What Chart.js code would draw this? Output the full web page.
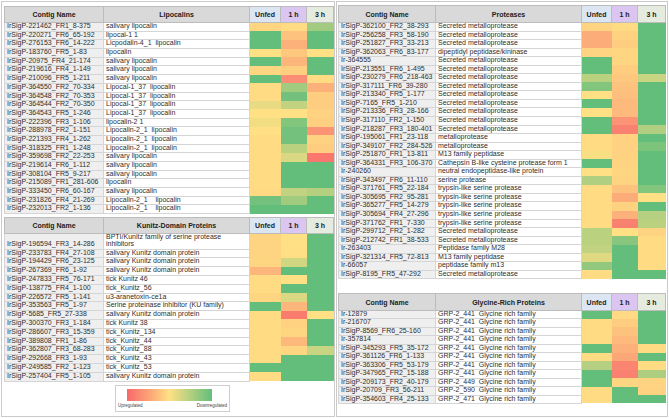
<!DOCTYPE html>
<html lang="en">
<head>
<meta charset="UTF-8">
<title>Salivary transcripts heat map</title>
<script src="https://cdn.jsdelivr.net/npm/chart.js"></script>
<style>
    body {
        margin: 0;
        width: 669px;
        height: 418px;
        overflow: hidden;
        background: #fff;
        position: relative;
        font-family: "Liberation Sans", Arial, sans-serif;
    }
    .frame {
        position: absolute;
        border: 1px solid #cacaca;
        box-sizing: border-box;
    }
    .panel { position: absolute; }
    .panel table {
        border-collapse: collapse;
        table-layout: fixed;
        font-size: 7px;
        color: #2e2e2e;
    }
    .panel th {
        background: #d9d9d9;
        color: #222;
        font-weight: bold;
        border: 1px solid #bcbcbc;
        padding: 0;
        text-align: center;
        vertical-align: middle;
    }
    .panel th.unfed { background: #dce6f3; }
    .panel th.h1 { background: #dbc5f1; }
    .panel th.h3 { background: #e5ecdf; }
    .panel td {
        padding: 0 0 1px 2px;
        white-space: pre;
        vertical-align: bottom;
        border: 1px solid #d5d5d5;
    }
    .panel td.contig { background: #efefef; }
    .panel td.heat { border: none; padding: 0; }
    .panel canvas { position: absolute; }
    .legend {
        position: absolute;
        left: 115px; top: 385px; width: 115px; height: 27px;
        border: 1px solid #cfcfcf;
        box-sizing: border-box;
        background: #fff;
    }
    .legend .bar {
        position: absolute;
        left: 11px; top: 3px; width: 85px; height: 12px;
        background: linear-gradient(to right, #f8696b, #fba276 25%, #ffe084 50%, #b1cf80 75%, #63be7b);
    }
    .legend span {
        position: absolute;
        top: 17px;
        font-size: 4.5px;
        color: #444;
    }
</style>
</head>
<body>
<div class="frame" style="left:1px;top:1px;width:334px;height:416px"></div>
<div class="frame" style="left:336px;top:1px;width:332px;height:416px"></div>
<div class="legend">
    <div class="bar"></div>
    <span style="left:2px">Upregulated</span>
    <span style="right:2px">Downregulated</span>
</div>
<script>
// heat score per cell: 0 = most upregulated (red), 50 = neutral (yellow), 100 = most downregulated (green)
const columns = ['Unfed', '1 h', '3 h'];

const lipoContigs = ['IrSigP-221462_FR1_8-375', 'IrSigP-220271_FR6_65-192', 'IrSigP-276153_FR6_14-222', 'IrSigP-183760_FR5_1-83',
    'IrSigP-20975_FR4_21-174', 'IrSigP-219616_FR4_1-149', 'IrSigP-210096_FR5_1-211', 'IrSigP-364550_FR2_70-334',
    'IrSigP-364548_FR2_70-353', 'IrSigP-364544_FR2_70-350', 'IrSigP-364543_FR5_1-246', 'IrSigP-222396_FR3_1-106',
    'IrSigP-288978_FR2_1-151', 'IrSigP-221393_FR4_1-262', 'IrSigP-318325_FR1_1-248', 'IrSigP-359698_FR2_22-253',
    'IrSigP-219614_FR6_1-112', 'IrSigP-308104_FR5_9-217', 'IrSigP-215089_FR1_281-606', 'IrSigP-333450_FR6_60-167',
    'IrSigP-231826_FR4_21-269', 'IrSigP-232013_FR2_1-136'];
const lipoProteins = ['salivary lipocalin', 'lipocal-1 1', 'Licpodalin-4_1  lipocalin', 'lipocalin',
    'salivary lipocalin', 'salivary lipocalin', 'salivary lipocalin', 'Lipocal-1_37  lipocalin',
    'Lipocal-1_37  lipocalin', 'Lipocal-1_37  lipocalin', 'Lipocal-1_37  lipocalin', 'lipocalin-2 1',
    'Lipocalin-2_1  lipocalin', 'Lipocalin-2_1  lipocalin', 'Lipocalin-2_1  lipocalin', 'salivary lipocalin',
    'salivary lipocalin', 'salivary lipocalin', 'lipocalin', 'salivary lipocalin',
    'Lipocalin-2_1    lipocalin', 'Lipocalin-2_1    lipocalin'];
const lipoUnfed = [46, 100, 100, 50, 100, 46, 100, 48, 48, 57, 50, 54, 50, 48, 48, 48, 48, 48, 48, 47, 95, 100];
const lipo1h = [48, 38, 30, 40, 32, 43, 15, 80, 95, 70, 50, 90, 95, 95, 72, 62, 100, 100, 100, 70, 80, 100];
const lipo3h = [80, 100, 100, 50, 100, 100, 48, 30, 42, 42, 44, 43, 18, 44, 42, 6, 100, 100, 100, 74, 100, 100];

const kunitzContigs = ['IrSigP-196594_FR3_14-286', 'IrSigP-233783_FR4_27-108', 'IrSigP-194429_FR6_23-125', 'IrSigP-267369_FR6_1-92',
    'IrSigP-247833_FR5_76-171', 'IrSigP-138775_FR4_1-100', 'IrSigP-226572_FR5_1-141', 'IrSigP-353563_FR5_1-97',
    'IrSigP-5685_FR5_27-338', 'IrSigP-300370_FR3_1-184', 'IrSigP-286607_FR3_15-359', 'IrSigP-389808_FR1_1-86',
    'IrSigP-362807_FR3_68-283', 'IrSigP-292668_FR3_1-93', 'IrSigP-249585_FR2_1-123', 'IrSigP-257404_FR5_1-105'];
const kunitzProteins = ['BPTI/Kunitz family of serine protease\ninhibitors', 'salivary Kunitz domain protein',
    'salivary Kunitz domain protein', 'salivary Kunitz domain protein', 'tick Kunitz 46', 'tick_Kunitz_56',
    'u3-aranetoxin-ce1a', 'Serine proteinase inhibitor (KU family)', 'salivary Kunitz domain protein', 'tick Kunitz 38',
    'tick_Kunitz_134', 'tick_Kunitz_44', 'tick_Kunitz_88', 'tick_Kunitz_43', 'tick_Kunitz_53',
    'salivary Kunitz domain protein'];
const kunitzUnfed = [45, 45, 46, 32, 48, 48, 46, 100, 48, 48, 48, 48, 48, 48, 100, 48];
const kunitz1h = [50, 49, 65, 100, 50, 100, 62, 32, 8, 44, 46, 33, 46, 100, 100, 100];
const kunitz3h = [100, 100, 100, 100, 100, 100, 100, 100, 50, 100, 100, 100, 68, 100, 100, 100];

const proteaseContigs = ['IrSigP-362100_FR2_38-293', 'IrSigP-256258_FR3_58-190', 'IrSigP-251827_FR3_33-213', 'IrSigP-362063_FR6_83-177',
    'Ir-364555', 'IrSigP-213551_FR6_1-495', 'IrSigP-230279_FR6_218-463', 'IrSigP-317111_FR6_39-280',
    'IrSigP-213340_FR5_1-177', 'IrSigP-7165_FR5_1-210', 'IrSigP-213336_FR3_28-166', 'IrSigP-317110_FR2_1-150',
    'IrSigP-218287_FR3_180-401', 'IrSigP-195061_FR1_23-118', 'IrSigP-349107_FR2_284-526', 'IrSigP-251870_FR1_13-811',
    'IrSigP-364331_FR3_106-370', 'Ir-240260', 'IrSigP-343497_FR6_11-110', 'IrSigP-371761_FR5_22-184',
    'IrSigP-305695_FR2_95-281', 'IrSigP-365277_FR5_14-279', 'IrSigP-305694_FR4_27-296', 'IrSigP-371762_FR1_7-330',
    'IrSigP-299712_FR2_1-282', 'IrSigP-212742_FR1_38-533', 'Ir-263403', 'IrSigP-321314_FR5_72-813',
    'Ir-66057', 'IrSigP-8195_FR5_47-292'];
const proteaseProteins = ['Secreted metalloprotease', 'Secreted metalloprotease', 'Secreted metalloprotease', 'dipeptidyl peptidase/kininase',
    'Secreted metalloprotease', 'Secreted metalloprotease', 'Secreted metalloprotease', 'Secreted metalloprotease',
    'Secreted metalloprotease', 'Secreted metalloprotease', 'Secreted metalloprotease', 'Secreted metalloprotease',
    'Secreted metalloprotease', 'metalloprotease', 'metalloprotease', 'M13 family peptidase',
    'Cathepsin B-like cysteine protease form 1', 'neutral endopeptidase-like protein', 'serine protease', 'trypsin-like serine protease',
    'trypsin-like serine protease', 'trypsin-like serine protease', 'trypsin-like serine protease', 'trypsin-like serine protease',
    'Secreted metalloprotease', 'Secreted metalloprotease', 'Peptidase family M28', 'M13 family peptidase',
    'peptidase family m13', 'Secreted metalloprotease'];
const proteaseUnfed = [45, 28, 28, 45, 100, 100, 72, 90, 50, 100, 50, 100, 100, 48, 48, 52, 100, 50, 75, 48,
    48, 48, 48, 48, 72, 72, 70, 60, 85, 48];
const protease1h = [48, 44, 42, 46, 46, 42, 40, 38, 36, 34, 34, 18, 10, 44, 44, 44, 45, 46, 45, 38,
    28, 44, 30, 10, 50, 88, 100, 100, 100, 100];
const protease3h = [100, 100, 100, 100, 100, 100, 68, 100, 100, 100, 100, 100, 75, 100, 92, 100, 100, 100, 100, 90,
    50, 100, 74, 72, 45, 48, 48, 48, 48, 100];

const glycineContigs = ['Ir-12879', 'Ir-216707', 'IrSigP-8569_FR6_25-160', 'Ir-357814', 'IrSigP-345293_FR5_35-172',
    'IrSigP-361126_FR6_1-133', 'IrSigP-363306_FR5_53-179', 'IrSigP-347965_FR2_15-188', 'IrSigP-209173_FR2_40-179',
    'IrSigP-20709_FR3_56-211', 'IrSigP-354603_FR4_25-133'];
const glycineProteins = ['GRP-2_441  Glycine rich family', 'GRP-2_441  Glycine rich family', 'GRP-2_441  Glycine rich family',
    'GRP-2_441  Glycine rich family', 'GRP-2_441  Glycine rich family', 'GRP-2_441  Glycine rich family',
    'GRP-2_441  Glycine rich family', 'GRP-2_441  Glycine rich family', 'GRP-2_449  Glycine rich family',
    'GRP-2_590  Glycine rich family', 'GRP-2_471  Glycine rich family'];
const glycineUnfed = [100, 48, 48, 48, 100, 48, 74, 100, 100, 48, 48];
const glycine1h = [47, 42, 38, 34, 30, 26, 12, 10, 46, 100, 100];
const glycine3h = [100, 100, 100, 100, 48, 100, 48, 76, 45, 44, 100];

const heatStops = [[248, 105, 107], [255, 224, 132], [99, 190, 123]];

function heatColor(v) {
    const t = Math.max(0, Math.min(100, v)) / 50;
    const i = t < 1 ? 0 : 1;
    const f = t - i;
    const a = heatStops[i], b = heatStops[i + 1];
    const c = a.map((ch, k) => Math.round(ch + (b[k] - ch) * f));
    return `rgb(${c[0]}, ${c[1]}, ${c[2]})`;
}

function buildPanel(cfg) {
    const panel = document.createElement('div');
    panel.className = 'panel';
    panel.style.left = cfg.left + 'px';
    panel.style.top = cfg.top + 'px';

    const total = cfg.widths.reduce((s, w) => s + w, 0);
    let html = `<table style="width:${total}px"><colgroup>`;
    cfg.widths.forEach(w => { html += `<col style="width:${w}px">`; });
    html += `</colgroup><thead><tr style="height:${cfg.headerH}px">` +
        `<th>Contig Name</th><th>${cfg.title}</th>` +
        `<th class="unfed">${columns[0]}</th><th class="h1">${columns[1]}</th><th class="h3">${columns[2]}</th>` +
        `</tr></thead><tbody>`;
    const lh = (cfg.rowH - 2).toFixed(2);
    cfg.contigs.forEach((name, i) => {
        html += `<tr style="height:${cfg.rowH}px">` +
            `<td class="contig" style="line-height:${lh}px">${name}</td>` +
            `<td style="line-height:${lh}px">${cfg.proteins[i]}</td>` +
            `<td class="heat"></td><td class="heat"></td><td class="heat"></td></tr>`;
    });
    html += '</tbody></table>';
    panel.innerHTML = html;
    document.body.appendChild(panel);

    // heat cells follow the table's own row and column boxes
    const box = panel.getBoundingClientRect();
    const table = panel.querySelector('table');
    const heads = Array.from(table.tHead.rows[0].cells).slice(2);
    const rows = Array.from(table.tBodies[0].rows);
    const x0 = Math.round(heads[0].getBoundingClientRect().left - box.left);
    const x1 = Math.round(heads[2].getBoundingClientRect().right - box.left);
    const y0 = Math.round(rows[0].getBoundingClientRect().top - box.top);
    const y1 = Math.round(rows[rows.length - 1].getBoundingClientRect().bottom - box.top);
    const width = x1 - x0;
    const height = y1 - y0;

    const colEdges = heads.map(h => {
        const r = h.getBoundingClientRect();
        return [Math.round(r.left - box.left) - x0, Math.round(r.right - box.left) - x0];
    });
    const rowEdges = rows.map(tr => {
        const r = tr.getBoundingClientRect();
        return [Math.round(r.top - box.top) - y0, Math.round(r.bottom - box.top) - y0];
    });

    const canvas = document.createElement('canvas');
    canvas.width = width;
    canvas.height = height;
    canvas.style.left = x0 + 'px';
    canvas.style.top = y0 + 'px';
    canvas.style.width = width + 'px';
    canvas.style.height = height + 'px';
    panel.appendChild(canvas);

    new Chart(canvas.getContext('2d'), {
        type: 'bar',
        data: {
            datasets: cfg.series.map((values, j) => ({
                label: columns[j],
                data: values.map((v, i) => ({
                    x: (colEdges[j][0] + colEdges[j][1]) / 2,
                    y: rowEdges[i]
                })),
                backgroundColor: values.map(heatColor),
                barThickness: colEdges[j][1] - colEdges[j][0],
                stack: 'heat',
                borderWidth: 0,
                inflateAmount: 0
            }))
        },
        options: {
            responsive: false,
            animation: false,
            events: [],
            layout: { padding: 0 },
            plugins: { legend: { display: false }, tooltip: { enabled: false } },
            scales: {
                x: { type: 'linear', min: 0, max: width, offset: false, display: false },
                y: { type: 'linear', min: 0, max: height, reverse: true, stacked: false, display: false }
            }
        }
    });
}

buildPanel({
    title: 'Lipocalins', left: 4, top: 6, widths: [99, 146, 31, 26, 27], headerH: 16, rowH: 8.68,
    contigs: lipoContigs, proteins: lipoProteins, series: [lipoUnfed, lipo1h, lipo3h]
});
buildPanel({
    title: 'Kunitz-Domain Proteins', left: 4, top: 217, widths: [99, 146, 31, 26, 27], headerH: 16, rowH: 8.8,
    contigs: kunitzContigs, proteins: kunitzProteins, series: [kunitzUnfed, kunitz1h, kunitz3h]
});
buildPanel({
    title: 'Proteases', left: 338, top: 5, widths: [97, 146, 30, 26, 28], headerH: 17, rowH: 8.55,
    contigs: proteaseContigs, proteins: proteaseProteins, series: [proteaseUnfed, protease1h, protease3h]
});
buildPanel({
    title: 'Glycine-Rich Proteins', left: 338, top: 293, widths: [97, 146, 30, 26, 28], headerH: 17, rowH: 8.45,
    contigs: glycineContigs, proteins: glycineProteins, series: [glycineUnfed, glycine1h, glycine3h]
});
</script>
</body>
</html>
